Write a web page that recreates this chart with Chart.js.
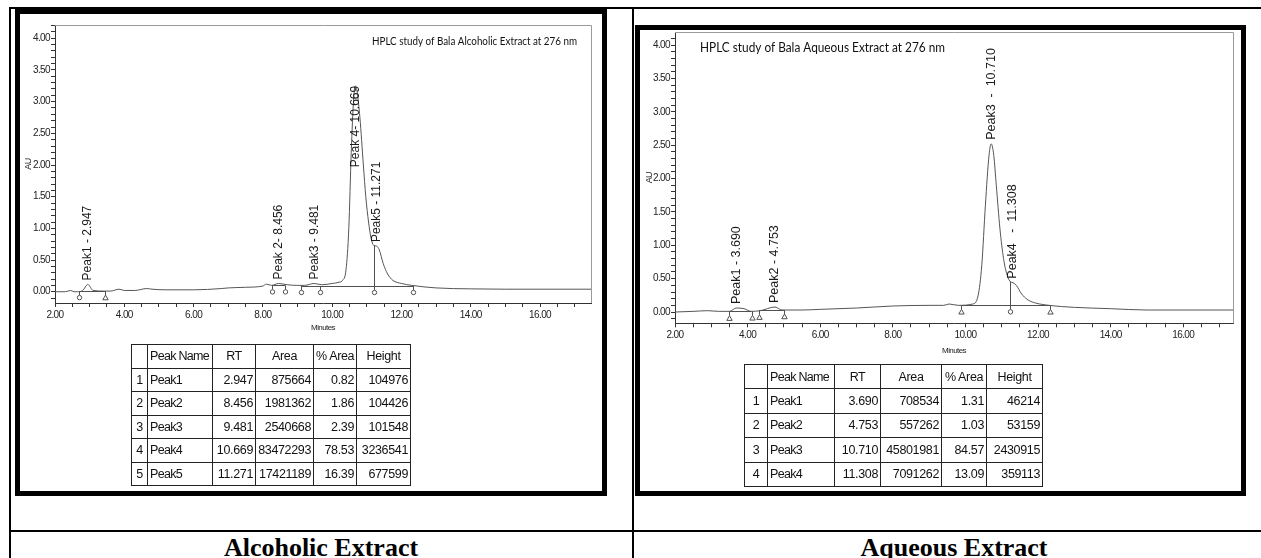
<!DOCTYPE html>
<html>
<head>
<meta charset="utf-8">
<script src="https://cdn.jsdelivr.net/npm/chart.js@4.4.1/dist/chart.umd.min.js"></script>
<style>
	html, body { margin: 0; padding: 0; background: #fff; width: 1261px; height: 558px; overflow: hidden; position: relative; }
	.rule { position: absolute; background: #000; }
	.frame { position: absolute; border: 5px solid #000; box-sizing: border-box; }
	canvas { position: absolute; }
	table.peaks { position: absolute; border-collapse: collapse; table-layout: fixed; font-family: "Liberation Sans", Arial, sans-serif; font-size: 12.5px; color: #111; }
	table.peaks td { border: 1px solid #222; padding: 0 2px; white-space: nowrap; overflow: hidden; letter-spacing: -0.35px; }
	table.peaks td.c { text-align: center; }
	table.peaks td.r { text-align: right; }
	table.peaks td.l { text-align: left; letter-spacing: -0.7px; }
	.caption { position: absolute; font-family: "Liberation Serif", "Times New Roman", serif; font-weight: bold; font-size: 26px; line-height: 26px; text-align: center; color: #000; }
</style>
</head>
<body>
<div class="rule" style="left:10px; top:7px; width:1251px; height:2px;"></div>
<div class="rule" style="left:9px; top:7px; width:2px; height:551px;"></div>
<div class="rule" style="left:632px; top:7px; width:2px; height:551px;"></div>
<div class="rule" style="left:10px; top:530px; width:1251px; height:2px;"></div>

<div class="frame" style="left:15px; top:9px; width:592px; height:487px;"></div>
<div class="frame" style="left:635px; top:25px; width:611px; height:471px;"></div>

<canvas id="alcChart" width="582" height="340" style="left:20px; top:15px;"></canvas>
<canvas id="aqChart" width="601" height="350" style="left:640px; top:20px;"></canvas>

<table class="peaks" id="alcTable" style="left:131px; top:344px; width:279px; height:142px;"></table>
<table class="peaks" id="aqTable" style="left:744px; top:364px; width:298px; height:123px;"></table>

<div class="caption" style="left:10px; top:535px; width:622px;">Alcoholic Extract</div>
<div class="caption" style="left:634px; top:535px; width:640px;">Aqueous Extract</div>

<script>
// ---- Alcoholic extract chromatogram (minutes, AU) ----
const alcTime = [2.0, 2.3, 2.45, 2.55, 2.65, 2.8, 2.947, 3.1, 3.4, 3.6, 3.85, 4.0, 4.3, 4.65, 4.8, 5.2, 6.0, 6.8, 7.0,
	7.5, 8.0, 8.1, 8.25, 8.456, 8.7, 9.0, 9.2, 9.481, 9.7, 10.0, 10.2, 10.3, 10.4, 10.48, 10.55, 10.62, 10.669, 10.72,
	10.8, 10.9, 10.97, 11.05, 11.12, 11.2, 11.28, 11.36, 11.47, 11.6, 11.75, 12.0, 12.3, 13.0, 14.0, 15.0, 16.0, 17.47];
const alcAU = [0.0, 0.0, 0.02, 0.0, 0.0, 0.02, 0.115, 0.02, 0.01, 0.01, 0.04, 0.02, 0.02, 0.05, 0.04, 0.03, 0.03, 0.05, 0.06,
	0.07, 0.09, 0.12, 0.1, 0.13, 0.11, 0.1, 0.1, 0.13, 0.11, 0.13, 0.15, 0.18, 0.35, 1.0, 2.2, 3.05, 3.25, 3.15,
	2.75, 2.0, 1.5, 1.1, 0.85, 0.73, 0.72, 0.66, 0.45, 0.28, 0.18, 0.13, 0.1, 0.06, 0.045, 0.04, 0.04, 0.04];

const alcPeakName = ["Peak1", "Peak2", "Peak3", "Peak4", "Peak5"];
const alcPeakLabel = ["Peak1 - 2.947", "Peak 2- 8.456", "Peak3 - 9.481", "Peak 4- 10.669", "Peak5 - 11.271"];
const alcRT = [2.947, 8.456, 9.481, 10.669, 11.271];
const alcApex = [0.115, 0.13, 0.13, 3.25, 0.72];
const alcArea = [875664, 1981362, 2540668, 83472293, 17421189];
const alcPctArea = [0.82, 1.86, 2.39, 78.53, 16.39];
const alcHeight = [104976, 104426, 101548, 3236541, 677599];

const alcBaseStart = [2.69, 8.27, 9.10];
const alcBaseEnd = [3.44, 8.64, 12.34];
const alcBaseLevel = [0.01, 0.10, 0.09];
const alcMarkTime = [2.69, 3.44, 8.27, 8.64, 9.10, 9.65, 11.21, 12.34];
const alcMarkLevel = [0.01, 0.01, 0.10, 0.10, 0.09, 0.09, 0.09, 0.09];
const alcMarkShape = ["circle", "triangle", "circle", "circle", "circle", "circle", "circle", "circle"];
const alcDropTime = [11.21];
const alcDropFrom = [0.09];
const alcDropTo = [0.73];

// ---- Aqueous extract chromatogram ----
const aqTime = [2.0, 2.5, 2.9, 3.2, 3.5, 3.69, 3.9, 4.1, 4.35, 4.753, 4.95, 5.5, 6.0, 7.0, 8.0, 9.0, 9.4, 9.55, 9.8,
	10.2, 10.35, 10.45, 10.55, 10.65, 10.71, 10.78, 10.85, 10.95, 11.05, 11.15, 11.25, 11.31, 11.4, 11.55, 11.7, 11.9,
	12.3, 13.0, 14.0, 15.0, 17.37];
const aqAU = [0.0, 0.01, 0.02, 0.01, 0.01, 0.06, 0.05, 0.01, 0.02, 0.075, 0.03, 0.03, 0.04, 0.06, 0.09, 0.1, 0.1, 0.12, 0.1,
	0.12, 0.25, 0.7, 1.6, 2.35, 2.52, 2.35, 1.9, 1.25, 0.8, 0.55, 0.45, 0.44, 0.4, 0.27, 0.19, 0.14,
	0.1, 0.07, 0.05, 0.03, 0.03];

const aqPeakName = ["Peak1", "Peak2", "Peak3", "Peak4"];
const aqPeakLabel = ["Peak1 - 3.690", "Peak2 - 4.753", "Peak3  -  10.710", "Peak4   -  11.308"];
const aqRT = [3.690, 4.753, 10.710, 11.308];
const aqApex = [0.06, 0.075, 2.52, 0.44];
const aqArea = [708534, 557262, 45801981, 7091262];
const aqPctArea = [1.31, 1.03, 84.57, 13.09];
const aqHeight = [46214, 53159, 2430915, 359113];

const aqBaseStart = [3.49, 4.32, 9.87];
const aqBaseEnd = [4.11, 5.00, 12.33];
const aqBaseLevel = [0.01, 0.025, 0.1];
const aqMarkTime = [3.49, 4.11, 4.32, 5.00, 9.87, 11.23, 12.33];
const aqMarkLevel = [0.005, 0.01, 0.02, 0.03, 0.1, 0.1, 0.1];
const aqMarkShape = ["triangle", "triangle", "triangle", "triangle", "triangle", "circle", "triangle"];
const aqDropTime = [11.23];
const aqDropFrom = [0.1];
const aqDropTo = [0.45];

const tableHeader = ["", "Peak Name", "RT", "Area", "% Area", "Height"];

const SANS = "'Liberation Sans', Arial, sans-serif";

function isStep(v, step) {
	const q = v / step;
	return Math.abs(q - Math.round(q)) < 1e-6;
}

function stepTicks(min, max, step) {
	const out = [];
	const first = Math.ceil(min / step - 1e-9);
	for (let i = first; i * step <= max + 1e-9; i++) {
		out.push({ value: +(i * step).toFixed(4) });
	}
	return out;
}

// tick labels in the original are condensed; tighten the letters while the axes draw
const narrowAxes = {
	id: "narrowAxes",
	beforeDraw(chart) {
		chart.ctx.save();
		chart.ctx.letterSpacing = "-0.6px";
	},
	afterDraw(chart) {
		chart.ctx.restore();
	},
};

function decorPlugin(d) {
	return {
		id: "hplcDecor",
		afterDatasetsDraw(chart) {
			const { ctx, chartArea: a, scales } = chart;
			const x = scales.x;
			const y = scales.y;
			ctx.save();
			ctx.letterSpacing = "0px";

			// light frame on top and right of the plot
			ctx.strokeStyle = "#9a9a9a";
			ctx.lineWidth = 1;
			ctx.beginPath();
			ctx.moveTo(a.left, Math.round(a.top) + 0.5);
			ctx.lineTo(Math.round(a.right) + 0.5, Math.round(a.top) + 0.5);
			ctx.lineTo(Math.round(a.right) + 0.5, a.bottom);
			ctx.stroke();

			ctx.strokeStyle = "#505050";
			d.baseStart.forEach((s, i) => {
				const yy = Math.round(y.getPixelForValue(d.baseLevel[i])) + 0.5;
				ctx.beginPath();
				ctx.moveTo(x.getPixelForValue(s), yy);
				ctx.lineTo(x.getPixelForValue(d.baseEnd[i]), yy);
				ctx.stroke();
			});

			d.dropTime.forEach((t, i) => {
				const px = Math.round(x.getPixelForValue(t)) + 0.5;
				ctx.beginPath();
				ctx.moveTo(px, y.getPixelForValue(d.dropFrom[i]));
				ctx.lineTo(px, y.getPixelForValue(d.dropTo[i]));
				ctx.stroke();
			});

			d.markTime.forEach((t, i) => {
				const px = Math.round(x.getPixelForValue(t)) + 0.5;
				const by = y.getPixelForValue(d.markLevel[i]);
				ctx.beginPath();
				ctx.moveTo(px, by);
				ctx.lineTo(px, by + 4);
				ctx.stroke();
				const cy = by + 6.5;
				ctx.fillStyle = "#fff";
				ctx.beginPath();
				if (d.markShape[i] === "circle") {
					ctx.arc(px, cy, 2.2, 0, Math.PI * 2);
				} else {
					ctx.moveTo(px, cy - 2.5);
					ctx.lineTo(px + 2.7, cy + 2.2);
					ctx.lineTo(px - 2.7, cy + 2.2);
					ctx.closePath();
				}
				ctx.fill();
				ctx.stroke();
			});

			// rotated peak labels
			ctx.font = d.peakFont;
			ctx.fillStyle = "#1a1a1a";
			ctx.textBaseline = "middle";
			ctx.textAlign = "left";
			d.peakLabel.forEach((txt, i) => {
				const px = x.getPixelForValue(d.peakRT[i]);
				const py = y.getPixelForValue(d.peakApex[i]);
				const w = ctx.measureText(txt).width;
				let start = py - 4;
				if (start - w < a.top + 2) {
					start = py + w;
				}
				ctx.save();
				ctx.translate(px, start);
				ctx.rotate(-Math.PI / 2);
				ctx.fillText(txt, 0, 0);
				ctx.restore();
			});

			// chart title
			ctx.font = d.titleFont;
			ctx.fillStyle = "#111";
			ctx.textAlign = d.titleAlign;
			const tx = d.titleAlign === "right" ? a.right - d.titleDx : a.left + d.titleDx;
			ctx.fillText(d.title, tx, a.top + d.titleDy, d.titleWidth);

			ctx.restore();
		},
	};
}

function makeChart(id, times, values, xMax, yMin, yMax, pad, xHeight, xTitlePad, yTitlePad, decor) {
	const axisFont = { family: SANS, size: 10 };
	return new Chart(document.getElementById(id).getContext("2d"), {
		type: "line",
		data: {
			datasets: [
				{
					data: times.map((t, i) => ({ x: t, y: values[i] })),
					borderColor: "#555",
					borderWidth: 1,
					pointRadius: 0,
					cubicInterpolationMode: "monotone",
					fill: false,
				},
			],
		},
		options: {
			responsive: false,
			animation: false,
			layout: { padding: pad },
			plugins: { legend: { display: false }, tooltip: { enabled: false } },
			scales: {
				x: {
					type: "linear",
					min: 2.0,
					max: xMax,
					afterBuildTicks: (s) => { s.ticks = stepTicks(2.0, xMax, 0.5); },
					afterFit: (s) => { s.height = xHeight; },
					grid: { drawOnChartArea: false, drawTicks: true, tickLength: 4, color: "#333" },
					border: { display: true, color: "#333", width: 1 },
					ticks: {
						autoSkip: false,
						maxRotation: 0,
						minRotation: 0,
						padding: 2,
						color: "#222",
						font: axisFont,
						callback: (v) => (isStep(v, 2) ? Number(v).toFixed(2) : ""),
					},
					title: { display: true, text: "Minutes", color: "#222", font: { family: SANS, size: 8 }, padding: { top: 0, bottom: xTitlePad } },
				},
				y: {
					min: yMin,
					max: yMax,
					afterBuildTicks: (s) => { s.ticks = stepTicks(yMin, yMax, 0.1); },
					afterFit: (s) => { s.width = 35; },
					grid: { drawOnChartArea: false, drawTicks: true, tickLength: 4, color: "#333" },
					border: { display: true, color: "#333", width: 1 },
					ticks: {
						autoSkip: false,
						padding: 1,
						color: "#222",
						font: axisFont,
						callback: (v) => (isStep(v, 0.5) ? Number(v).toFixed(2) : ""),
					},
					title: { display: true, text: "AU", color: "#222", font: { family: SANS, size: 9 }, padding: { top: yTitlePad, bottom: 0 } },
				},
			},
		},
		plugins: [narrowAxes, decorPlugin(decor)],
	});
}

makeChart("alcChart", alcTime, alcAU, 17.47, -0.178, 4.21, { top: 10, right: 11, bottom: 0, left: 0 }, 52, 22, 3, {
	title: "HPLC study of Bala Alcoholic Extract at 276 nm",
	titleFont: "10.5px Lato, 'Open Sans', sans-serif",
	titleAlign: "right",
	titleDx: 14,
	titleDy: 17,
	titleWidth: 205,
	peakFont: "12px " + SANS,
	peakLabel: alcPeakLabel,
	peakRT: alcRT,
	peakApex: alcApex,
	baseStart: alcBaseStart,
	baseEnd: alcBaseEnd,
	baseLevel: alcBaseLevel,
	markTime: alcMarkTime,
	markLevel: alcMarkLevel,
	markShape: alcMarkShape,
	dropTime: alcDropTime,
	dropFrom: alcDropFrom,
	dropTo: alcDropTo,
});

makeChart("aqChart", aqTime, aqAU, 17.37, -0.169, 4.196, { top: 12, right: 8, bottom: 0, left: 0 }, 46.7, 14, 4.6, {
	title: "HPLC study of Bala Aqueous Extract at 276 nm",
	titleFont: "12.5px Lato, 'Open Sans', sans-serif",
	titleAlign: "left",
	titleDx: 25,
	titleDy: 16,
	titleWidth: 245,
	peakFont: "12.5px " + SANS,
	peakLabel: aqPeakLabel,
	peakRT: aqRT,
	peakApex: aqApex,
	baseStart: aqBaseStart,
	baseEnd: aqBaseEnd,
	baseLevel: aqBaseLevel,
	markTime: aqMarkTime,
	markLevel: aqMarkLevel,
	markShape: aqMarkShape,
	dropTime: aqDropTime,
	dropFrom: aqDropFrom,
	dropTo: aqDropTo,
});

function buildTable(id, colWidths, names, rt, area, pct, height) {
	const table = document.getElementById(id);
	const cg = document.createElement("colgroup");
	colWidths.forEach((w) => {
		const c = document.createElement("col");
		c.style.width = w + "px";
		cg.appendChild(c);
	});
	table.appendChild(cg);
	const addRow = (cells, classes) => {
		const tr = document.createElement("tr");
		cells.forEach((txt, i) => {
			const td = document.createElement("td");
			td.textContent = txt;
			td.className = classes[i];
			tr.appendChild(td);
		});
		table.appendChild(tr);
	};
	addRow(tableHeader, ["c", "l", "c", "c", "c", "c"]);
	names.forEach((n, i) => {
		addRow([String(i + 1), n, rt[i].toFixed(3), String(area[i]), pct[i].toFixed(2), String(height[i])], ["c", "l", "r", "r", "r", "r"]);
	});
}

buildTable("alcTable", [16, 65, 43, 58, 43, 54], alcPeakName, alcRT, alcArea, alcPctArea, alcHeight);
buildTable("aqTable", [23, 67, 46, 61, 45, 56], aqPeakName, aqRT, aqArea, aqPctArea, aqHeight);
</script>
</body>
</html>
